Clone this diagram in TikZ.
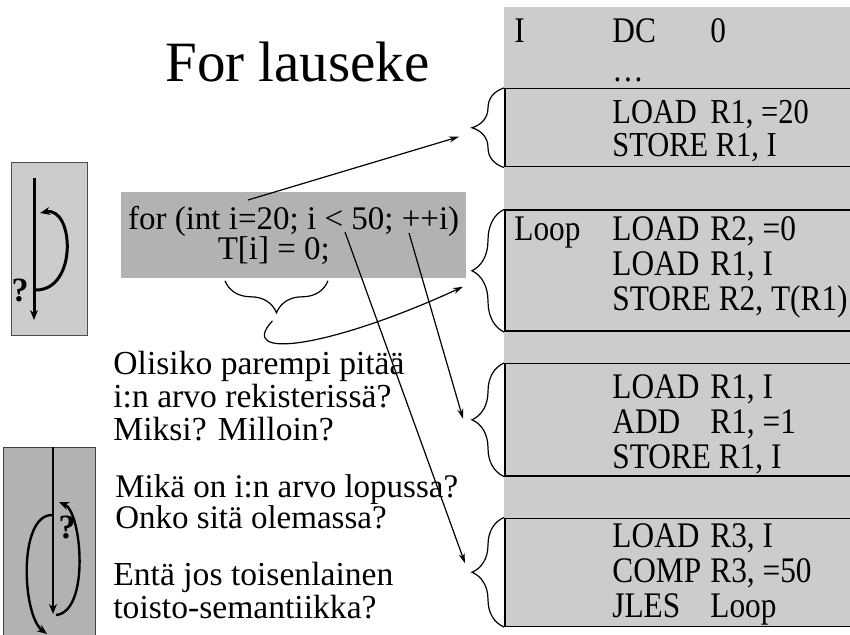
\documentclass[tikz,border=0pt]{standalone}
\usepackage{fontspec}
\setmainfont{Liberation Serif}
\newfontfamily\asmfont[FakeStretch=0.87]{Liberation Serif}
\usetikzlibrary{arrows.meta,positioning,calc,decorations.pathreplacing}

\definecolor{panelgray}{gray}{0.80}
\definecolor{codegray}{gray}{0.70}
\newcommand{\asmlbl}[1]{\makebox[49pt][l]{#1}}
\newcommand{\asmop}[1]{\makebox[49pt][l]{#1}}

\begin{document}
\begin{tikzpicture}[
			x=0.5pt, y=-0.5pt,
			asmbox/.style={
				rectangle,
				draw=black,
				line width=0.75pt,
				fill=panelgray,
				anchor=north west,
				minimum width=180pt,
				inner sep=0pt
			},
			asmtext/.style={
				inner sep=0pt,
				anchor=base west,
				align=left,
				font=\asmfont\fontsize{18}{17.5}\selectfont
			},
			codebox/.style={
				rectangle,
				fill=codegray,
				anchor=north west,
				minimum width=170.5pt,
				minimum height=43pt,
				align=center,
				font=\fontsize{16.5}{15}\selectfont
			},
			notetext/.style={
				inner sep=0pt,
				anchor=base west,
				align=left,
				font=\fontsize{16.8}{16.25}\selectfont
			},
			arrow/.style={
				-{Stealth[length=5pt,width=3pt]},
				line width=0.6pt,
				draw=black
			},
			brace/.style={
				decorate,
				decoration={brace,amplitude=16pt},
				line width=0.6pt
			},
			iconline/.style={
				-{Stealth[length=5pt,width=4pt]},
				line width=1.5pt
			}
			]
			\useasboundingbox (0,0) rectangle (850,635);
			\fill[panelgray] (504,7) rectangle (860,622);
			
			\node[anchor=base west, inner sep=0pt, font=\fontsize{28.5}{34}\selectfont] (title) at (165,82) {For lauseke};
			
			\node[asmtext] (decl) at (514,43) {\asmlbl{I}\asmop{DC}0};
			\node[asmtext] (dots) at (612,82) {\dots};
			
			\node[asmbox, minimum height=39pt] (init) at (504,88) {};
			\node[asmbox, minimum height=60.5pt, below=21pt of init] (body) {};
			\node[asmbox, minimum height=56pt, below=15.5pt of body] (incr) {};
			\node[asmbox, minimum height=54pt, below=20.5pt of incr] (test) {};
			
			% base of a multi-line node = its last line
			\node[asmtext, font=\asmfont\fontsize{17.5}{16.5}\selectfont] (initcode) at ($(init.north west)+(10,69)$)
			{\asmlbl{}\asmop{LOAD}R1, =20\\\asmlbl{}STORE R1, I};
			\node[asmtext] (bodycode) at ($(body.north west)+(10,101)$)
			{\asmlbl{Loop}\asmop{LOAD}R2, =0\\\asmlbl{}\asmop{LOAD}R1, I\\\asmlbl{}STORE R2, T(R1)};
			\node[asmtext] (incrcode) at ($(incr.north west)+(10,105)$)
			{\asmlbl{}\asmop{LOAD}R1, I\\\asmlbl{}\asmop{ADD}R1, =1\\\asmlbl{}STORE R1, I};
			\node[asmtext] (testcode) at ($(test.north west)+(10,100)$)
			{\asmlbl{}\asmop{LOAD}R3, I\\\asmlbl{}\asmop{COMP}R3, =50\\\asmlbl{}\asmop{JLES}Loop};
			
			\draw[brace] (init.south west) -- (init.north west);
			\draw[brace] (body.south west) -- (body.north west);
			\draw[brace] (incr.south west) -- (incr.north west);
			\draw[brace] (test.south west) -- (test.north west);
			
			\node[codebox] (code) at (121,192) {for (int i=20; i < 50; ++i)\\T[i] = 0;\hspace*{1.2em}};
			\coordinate (start20) at ($(code.north west)+(127,8)$);
			\coordinate (start50) at ($(code.north west)+(224,40)$);
			\coordinate (startinc) at ($(code.north west)+(288,41)$);
			\coordinate (braceR) at ($(code.south west)+(207,2)$);
			\coordinate (braceL) at ($(code.south west)+(104,2)$);
			\draw[brace] (braceR) -- (braceL);
			\coordinate (hookstart) at ($(braceL)!0.5!(braceR)+(-4,40)$);
			
			\coordinate (tipinit) at ($(init.west)+(-45,9)$);
			\coordinate (tipbody) at ($(body.west)+(-41,16)$);
			\coordinate (tipincr) at ($(incr.west)+(-41,-1)$);
			\coordinate (tiptest) at ($(test.west)+(-39,-9)$);
			
			\node[notetext] (q1) at (113,440) {Olisiko parempi pitää\\i:n arvo rekisterissä?\\Miksi? Milloin?};
			\node[notetext, font=\fontsize{16.5}{15.5}\selectfont] (q2) at (115,528) {Mikä on i:n arvo lopussa?\\Onko sitä olemassa?};
			\node[notetext, font=\fontsize{16.8}{15}\selectfont] (q3) at (113,618) {Entä jos toisenlainen\\toisto-semantiikka?};
			
			\draw[arrow] (start20) -- (tipinit);
			\draw[arrow] (start50) -- (tiptest);
			\draw[arrow] (startinc) -- (tipincr);
			\draw[arrow] (hookstart) .. controls +(-37,40) and +(-133,61) .. (tipbody);
			
			% loop icons
			\filldraw[fill=panelgray, draw=black!70, line width=0.5pt] (11,163) rectangle (87,336);
			\draw[iconline] (34,178) -- (34,320);
			\draw[iconline] (36,290) .. controls (78,290) and (74,206) .. (40,213);
			\node[font=\bfseries\fontsize{17}{17}\selectfont, inner sep=0pt] (qup) at (20,290) {?};
			
			\filldraw[fill=codegray, draw=black!75, line width=0.5pt] (3,447) rectangle (95,645);
			\draw[iconline, line width=1.2pt] (53,447) -- (53,614);
			\draw[iconline, line width=1.2pt] (56,615) .. controls (90,612) and (82,512) .. (59,502);
			\draw[iconline, line width=1.2pt] (52,515) .. controls (18,515) and (22,615) .. (47,634);
			\node[font=\bfseries\fontsize{17}{17}\selectfont, inner sep=0pt] (qdown) at (67,527) {?};
		\end{tikzpicture}
\end{document}
